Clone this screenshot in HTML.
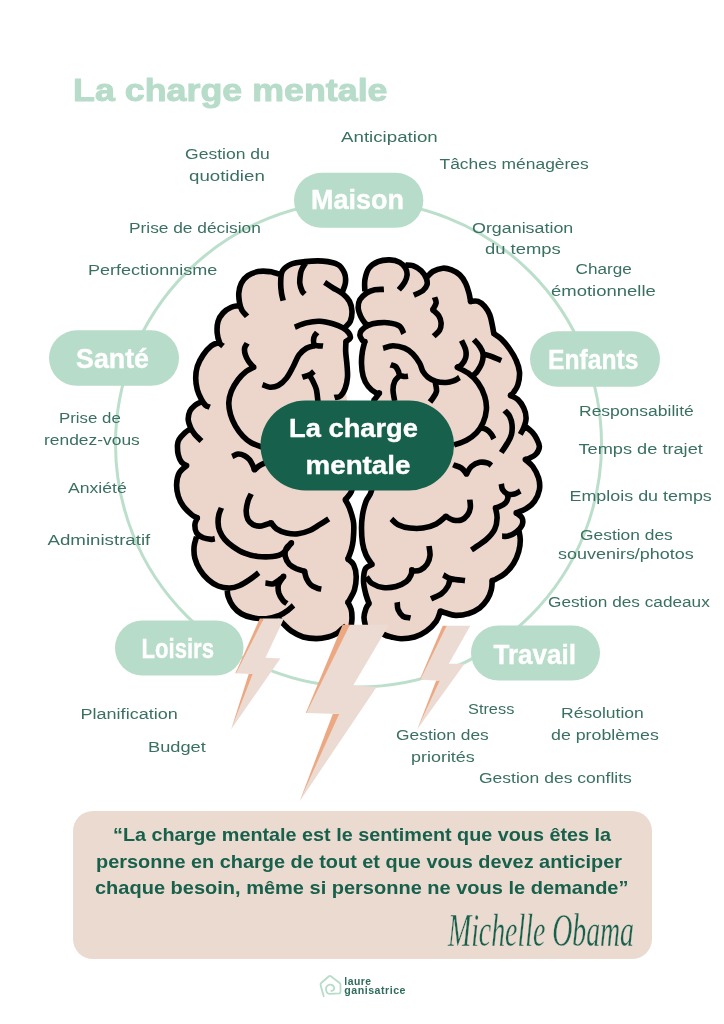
<!DOCTYPE html>
<html lang="fr">
<head>
<meta charset="utf-8">
<title>La charge mentale</title>
<style>
html,body{margin:0;padding:0;background:#ffffff;}
body{width:724px;height:1024px;overflow:hidden;}
svg{display:block;will-change:transform;}
text{font-family:"Liberation Sans",sans-serif;}
.lab{fill:#3a7062;font-weight:400;}
.pill{fill:#ffffff;font-weight:700;stroke:#ffffff;stroke-width:0.4px;}
.title{fill:#b7dcc9;font-weight:700;stroke:#b7dcc9;stroke-width:1px;stroke-linejoin:round;}
.quote{fill:#17604c;font-weight:700;}
.sig{font-family:"Liberation Serif",serif;font-style:italic;fill:#17604c;stroke:#ebdad0;stroke-width:0.4px;}
.logo{fill:#2f6b5b;font-weight:700;}
</style>
</head>
<body>
<svg width="724" height="1024" viewBox="0 0 724 1024">

<rect width="724" height="1024" fill="#ffffff"/>
<text class="title" x="73" y="101" font-size="32" textLength="314.5" lengthAdjust="spacingAndGlyphs">La charge mentale</text>
<circle cx="358.5" cy="444" r="243" fill="none" stroke="#bcdfcc" stroke-width="3"/>
<text class="lab" x="185" y="158.9" font-size="15.2" textLength="84.8" lengthAdjust="spacingAndGlyphs">Gestion du</text>
<text class="lab" x="189" y="181" font-size="15.2" textLength="75.8" lengthAdjust="spacingAndGlyphs">quotidien</text>
<text class="lab" x="341" y="141.8" font-size="15.2" textLength="96.8" lengthAdjust="spacingAndGlyphs">Anticipation</text>
<text class="lab" x="439.5" y="168.6" font-size="15.2" textLength="149.3" lengthAdjust="spacingAndGlyphs">Tâches ménagères</text>
<text class="lab" x="129" y="233.2" font-size="15.2" textLength="131.8" lengthAdjust="spacingAndGlyphs">Prise de décision</text>
<text class="lab" x="88" y="274.5" font-size="15.2" textLength="129.3" lengthAdjust="spacingAndGlyphs">Perfectionnisme</text>
<text class="lab" x="472" y="232.8" font-size="15.2" textLength="101.3" lengthAdjust="spacingAndGlyphs">Organisation</text>
<text class="lab" x="485" y="254" font-size="15.2" textLength="75.8" lengthAdjust="spacingAndGlyphs">du temps</text>
<text class="lab" x="575.5" y="274.4" font-size="15.2" textLength="56.3" lengthAdjust="spacingAndGlyphs">Charge</text>
<text class="lab" x="551" y="296" font-size="15.2" textLength="104.8" lengthAdjust="spacingAndGlyphs">émotionnelle</text>
<text class="lab" x="59" y="422.5" font-size="15.2" textLength="61.8" lengthAdjust="spacingAndGlyphs">Prise de</text>
<text class="lab" x="44" y="445" font-size="15.2" textLength="95.8" lengthAdjust="spacingAndGlyphs">rendez-vous</text>
<text class="lab" x="68" y="492.5" font-size="15.2" textLength="58.8" lengthAdjust="spacingAndGlyphs">Anxiété</text>
<text class="lab" x="47.5" y="545" font-size="15.2" textLength="102.8" lengthAdjust="spacingAndGlyphs">Administratif</text>
<text class="lab" x="579" y="416.2" font-size="15.2" textLength="114.8" lengthAdjust="spacingAndGlyphs">Responsabilité</text>
<text class="lab" x="578.5" y="454.3" font-size="15.2" textLength="124.3" lengthAdjust="spacingAndGlyphs">Temps de trajet</text>
<text class="lab" x="569.5" y="500.5" font-size="15.2" textLength="142.3" lengthAdjust="spacingAndGlyphs">Emplois du temps</text>
<text class="lab" x="580" y="539.5" font-size="15.2" textLength="92.8" lengthAdjust="spacingAndGlyphs">Gestion des</text>
<text class="lab" x="558" y="559" font-size="15.2" textLength="135.8" lengthAdjust="spacingAndGlyphs">souvenirs/photos</text>
<text class="lab" x="548" y="606.5" font-size="15.2" textLength="161.8" lengthAdjust="spacingAndGlyphs">Gestion des cadeaux</text>
<text class="lab" x="80.5" y="719" font-size="15.2" textLength="97.3" lengthAdjust="spacingAndGlyphs">Planification</text>
<text class="lab" x="148" y="751.5" font-size="15.2" textLength="57.8" lengthAdjust="spacingAndGlyphs">Budget</text>
<text class="lab" x="468" y="714" font-size="15.2" textLength="46.3" lengthAdjust="spacingAndGlyphs">Stress</text>
<text class="lab" x="561" y="718" font-size="15.2" textLength="82.8" lengthAdjust="spacingAndGlyphs">Résolution</text>
<text class="lab" x="551" y="740" font-size="15.2" textLength="107.8" lengthAdjust="spacingAndGlyphs">de problèmes</text>
<text class="lab" x="396" y="740" font-size="15.2" textLength="92.8" lengthAdjust="spacingAndGlyphs">Gestion des</text>
<text class="lab" x="411" y="761.5" font-size="15.2" textLength="63.8" lengthAdjust="spacingAndGlyphs">priorités</text>
<text class="lab" x="479" y="782.5" font-size="15.2" textLength="152.8" lengthAdjust="spacingAndGlyphs">Gestion des conflits</text>
<rect x="294" y="172.8" width="129.3" height="55" rx="27.5" fill="#b7dcc9"/>
<text class="pill" x="311" y="209.2" font-size="28" textLength="93" lengthAdjust="spacingAndGlyphs">Maison</text>
<rect x="49" y="330.3" width="130" height="55.5" rx="27.75" fill="#b7dcc9"/>
<text class="pill" x="76" y="367.5" font-size="28" textLength="73" lengthAdjust="spacingAndGlyphs">Santé</text>
<rect x="530" y="331.3" width="130" height="55.5" rx="27.75" fill="#b7dcc9"/>
<text class="pill" x="548" y="368.5" font-size="28" textLength="90.5" lengthAdjust="spacingAndGlyphs">Enfants</text>
<rect x="115" y="620.5" width="128.5" height="55" rx="27.5" fill="#b7dcc9"/>
<text class="pill" x="141.5" y="657.9" font-size="28" textLength="72.5" lengthAdjust="spacingAndGlyphs">Loisirs</text>
<rect x="471" y="625.5" width="129" height="55" rx="27.5" fill="#b7dcc9"/>
<text class="pill" x="493.5" y="663.5" font-size="28" textLength="82.5" lengthAdjust="spacingAndGlyphs">Travail</text>
<g><path d="M342.4,291.8C342.9,290.4 345.0,286.3 345.4,283.2C345.8,280.1 345.8,276.3 344.5,273.2C343.2,270.1 341.5,266.6 337.9,264.6C334.3,262.6 328.5,261.6 323.0,261.1C317.5,260.6 310.1,261.1 304.8,261.6C299.6,262.1 295.2,262.4 291.5,264.0C287.8,265.6 284.2,267.8 282.4,271.0L281.4,274.9C279.4,274.3 273.4,272.2 269.5,271.6C265.6,271.1 261.5,270.9 257.9,271.6C254.3,272.3 250.7,273.7 247.9,275.6C245.1,277.5 242.8,280.3 241.3,283.2C239.8,286.1 239.1,289.8 238.8,293.1C238.5,296.4 239.1,300.1 239.6,303.0L239.6,305.5C238.2,305.8 234.1,305.9 231.3,307.2C228.5,308.4 225.2,310.6 223.0,313.0C220.8,315.4 219.1,318.0 218.1,321.3C217.1,324.6 216.9,329.3 217.2,332.9C217.5,336.5 218.7,340.6 219.7,342.8L219.7,342.4C218.3,342.9 214.2,343.6 211.4,345.7C208.7,347.8 205.5,351.4 203.2,354.9C200.8,358.4 198.6,362.6 197.3,366.5C196.1,370.4 195.7,374.2 195.7,378.1C195.7,382.0 196.3,386.1 197.3,389.7C198.3,393.3 200.1,397.0 201.5,399.6L200.7,402.1C199.7,402.7 196.7,403.9 194.9,405.4C193.1,406.9 191.0,408.8 189.9,411.2C188.8,413.6 188.1,416.7 188.2,419.5C188.3,422.3 189.6,425.3 190.7,427.8L190.7,428.6C189.7,429.3 186.8,431.0 184.9,432.8C183.0,434.6 180.3,437.4 179.1,439.4C177.9,441.4 177.6,442.3 177.5,444.9C177.4,447.5 177.6,452.0 178.3,454.9C179.0,457.8 180.2,460.5 181.6,462.3C183.0,464.1 185.8,465.1 186.6,465.6L186.6,465.6C185.3,466.9 180.8,469.9 179.1,473.1C177.4,476.3 176.7,480.8 176.6,484.7C176.5,488.6 177.2,492.7 178.3,496.3C179.4,499.9 181.1,503.2 183.3,506.2C185.5,509.2 189.2,512.5 191.5,514.5C193.8,516.5 196.3,517.3 197.3,517.9L197.3,517.9C196.9,519.0 195.0,522.0 194.9,524.5C194.8,527.0 195.1,530.6 196.5,532.8L196.6,536.6C196.2,538.3 194.4,543.0 194.1,546.6C193.8,550.2 193.9,554.3 194.9,558.2C195.9,562.1 197.7,566.2 199.9,569.8C202.1,573.4 205.2,577.0 208.2,579.7C211.2,582.4 214.5,584.6 218.1,586.0C221.7,587.4 226.1,588.1 229.7,588.0L227.2,588.0C227.3,589.4 227.1,593.3 228.1,596.3C229.1,599.3 230.8,603.3 233.0,606.2C235.2,609.1 238.0,611.8 241.3,613.7C244.6,615.6 248.8,617.0 252.9,617.8C257.1,618.6 261.8,619.1 266.2,618.7C270.6,618.3 275.9,616.8 279.5,615.4L279.0,619.0C279.9,619.9 282.0,622.5 284.1,624.5C286.2,626.5 288.3,629.1 291.5,631.2C294.7,633.3 299.1,635.8 303.2,637.0C307.3,638.2 312.3,638.6 316.4,638.6C320.5,638.6 324.7,637.8 328.0,637.0C331.3,636.2 334.2,634.8 336.3,633.7C338.4,632.6 338.8,631.6 340.4,630.3C342.0,629.0 345.1,626.7 346.0,626.0L351.2,626.0C351.3,624.6 352.0,620.6 352.0,617.9C352.0,615.2 351.9,612.2 351.2,609.6C350.5,607.0 348.4,603.4 347.9,602.2L347.9,602.2C348.2,601.8 348.5,601.8 349.6,599.7C350.7,597.6 353.4,593.6 354.5,589.7C355.6,585.8 356.3,580.6 356.2,576.5C356.1,572.4 355.1,567.8 353.7,564.9C352.3,562.0 348.9,560.1 347.9,559.1L347.9,559.1C348.4,557.6 350.3,553.1 351.2,549.9C352.1,546.7 352.8,544.5 353.2,540.0C353.6,535.5 354.2,528.3 353.6,523.0C353.0,517.7 350.9,512.0 349.5,508.1C348.1,504.2 346.0,501.2 345.3,499.8L345.3,499.8C346.4,498.1 350.7,494.9 352.0,489.9C353.3,484.9 353.2,478.3 353.0,470.0C352.8,461.7 351.8,450.0 351.0,440.0C350.2,430.0 348.9,415.0 348.5,410.0L345.3,388.0C346.5,384.8 347.2,380.8 347.5,377.0C347.8,373.2 347.3,369.2 347.0,365.0C346.7,360.8 345.9,355.9 345.7,352.0C345.5,348.1 345.9,343.2 346.0,341.5L346.0,341.5C346.7,340.9 349.9,339.3 350.3,337.9C350.8,336.5 349.9,334.6 348.7,332.9C347.5,331.2 345.5,329.4 342.9,327.9L345.4,327.1C346.2,326.1 349.2,323.9 350.3,321.3C351.4,318.7 352.1,314.6 352.0,311.3C351.9,308.0 351.0,304.3 349.5,301.4C348.0,298.5 345.7,296.2 342.9,293.9Z" fill="#ecd5cb" stroke="none"/><path d="M342.4,291.8C342.9,290.4 345.0,286.3 345.4,283.2C345.8,280.1 345.8,276.3 344.5,273.2C343.2,270.1 341.5,266.6 337.9,264.6C334.3,262.6 328.5,261.6 323.0,261.1C317.5,260.6 310.1,261.1 304.8,261.6C299.6,262.1 295.2,262.4 291.5,264.0C287.8,265.6 284.2,267.8 282.4,271.0C280.6,274.2 280.8,279.5 280.7,283.2C280.6,286.9 281.1,290.2 281.5,293.1C281.9,296.0 282.9,299.4 283.2,300.6 M281.4,274.9C279.4,274.3 273.4,272.2 269.5,271.6C265.6,271.1 261.5,270.9 257.9,271.6C254.3,272.3 250.7,273.7 247.9,275.6C245.1,277.5 242.8,280.3 241.3,283.2C239.8,286.1 239.1,289.8 238.8,293.1C238.5,296.4 239.1,300.1 239.6,303.0C240.1,305.9 240.8,308.3 242.1,310.5C243.3,312.7 246.3,315.3 247.1,316.3 M239.6,305.5C238.2,305.8 234.1,305.9 231.3,307.2C228.5,308.4 225.2,310.6 223.0,313.0C220.8,315.4 219.1,318.0 218.1,321.3C217.1,324.6 216.9,329.3 217.2,332.9C217.5,336.5 218.7,340.6 219.7,342.8C220.7,345.0 222.4,345.6 223.0,346.1 M219.7,342.4C218.3,342.9 214.2,343.6 211.4,345.7C208.7,347.8 205.5,351.4 203.2,354.9C200.8,358.4 198.6,362.6 197.3,366.5C196.1,370.4 195.7,374.2 195.7,378.1C195.7,382.0 196.3,386.1 197.3,389.7C198.3,393.3 200.1,397.0 201.5,399.6C202.9,402.2 204.2,404.1 205.6,405.4C207.0,406.6 209.1,406.8 209.8,407.1 M200.7,402.1C199.7,402.7 196.7,403.9 194.9,405.4C193.1,406.9 191.0,408.8 189.9,411.2C188.8,413.6 188.1,416.7 188.2,419.5C188.3,422.3 189.6,425.3 190.7,427.8C191.8,430.3 193.4,432.5 194.9,434.4C196.4,436.3 198.7,438.3 199.8,439.4C200.9,440.5 201.2,440.8 201.5,441.1 M190.7,428.6C189.7,429.3 186.8,431.0 184.9,432.8C183.0,434.6 180.3,437.4 179.1,439.4C177.9,441.4 177.6,442.3 177.5,444.9C177.4,447.5 177.6,452.0 178.3,454.9C179.0,457.8 180.2,460.5 181.6,462.3C183.0,464.1 185.8,465.1 186.6,465.6 M186.6,465.6C185.3,466.9 180.8,469.9 179.1,473.1C177.4,476.3 176.7,480.8 176.6,484.7C176.5,488.6 177.2,492.7 178.3,496.3C179.4,499.9 181.1,503.2 183.3,506.2C185.5,509.2 189.2,512.5 191.5,514.5C193.8,516.5 196.3,517.3 197.3,517.9 M197.3,517.9C196.9,519.0 195.0,522.0 194.9,524.5C194.8,527.0 195.1,530.6 196.5,532.8C197.9,535.0 200.7,536.6 203.2,537.7C205.7,538.8 209.5,539.2 211.4,539.4C213.3,539.5 214.2,538.7 214.8,538.6 M196.6,536.6C196.2,538.3 194.4,543.0 194.1,546.6C193.8,550.2 193.9,554.3 194.9,558.2C195.9,562.1 197.7,566.2 199.9,569.8C202.1,573.4 205.2,577.0 208.2,579.7C211.2,582.4 214.5,584.6 218.1,586.0C221.7,587.4 226.1,588.1 229.7,588.0C233.3,587.9 236.4,586.9 239.7,585.5C243.0,584.1 246.4,581.8 249.6,579.7C252.8,577.6 257.2,573.9 258.7,572.8 M227.2,588.0C227.3,589.4 227.1,593.3 228.1,596.3C229.1,599.3 230.8,603.3 233.0,606.2C235.2,609.1 238.0,611.8 241.3,613.7C244.6,615.6 248.8,617.0 252.9,617.8C257.1,618.6 261.8,619.1 266.2,618.7C270.6,618.3 275.9,616.8 279.5,615.4C283.1,614.0 285.4,612.1 287.7,610.4C290.0,608.7 292.5,606.2 293.5,605.4 M279.0,619.0C279.9,619.9 282.0,622.5 284.1,624.5C286.2,626.5 288.3,629.1 291.5,631.2C294.7,633.3 299.1,635.8 303.2,637.0C307.3,638.2 312.3,638.6 316.4,638.6C320.5,638.6 324.7,637.8 328.0,637.0C331.3,636.2 334.2,634.8 336.3,633.7C338.4,632.6 338.8,631.6 340.4,630.3C342.0,629.0 345.1,626.7 346.0,626.0 M351.2,626.0C351.3,624.6 352.0,620.6 352.0,617.9C352.0,615.2 351.9,612.2 351.2,609.6C350.5,607.0 348.4,603.4 347.9,602.2 M347.9,602.2C348.2,601.8 348.5,601.8 349.6,599.7C350.7,597.6 353.4,593.6 354.5,589.7C355.6,585.8 356.3,580.6 356.2,576.5C356.1,572.4 355.1,567.8 353.7,564.9C352.3,562.0 348.9,560.1 347.9,559.1 M347.9,559.1C348.4,557.6 350.3,553.1 351.2,549.9C352.1,546.7 352.8,544.5 353.2,540.0C353.6,535.5 354.2,528.3 353.6,523.0C353.0,517.7 350.9,512.0 349.5,508.1C348.1,504.2 346.0,501.2 345.3,499.8 M345.3,499.8C346.4,498.1 350.7,494.9 352.0,489.9C353.3,484.9 353.2,478.3 353.0,470.0C352.8,461.7 351.8,450.0 351.0,440.0C350.2,430.0 348.9,415.0 348.5,410.0 M334.5,397.5C335.5,397.2 338.7,397.6 340.5,396.0C342.3,394.4 344.1,391.2 345.3,388.0C346.5,384.8 347.2,380.8 347.5,377.0C347.8,373.2 347.3,369.2 347.0,365.0C346.7,360.8 345.9,355.9 345.7,352.0C345.5,348.1 345.9,343.2 346.0,341.5 M346.0,341.5C346.7,340.9 349.9,339.3 350.3,337.9C350.8,336.5 349.9,334.6 348.7,332.9C347.5,331.2 345.5,329.4 342.9,327.9C340.3,326.4 336.8,324.9 332.9,323.8C329.0,322.7 324.1,321.5 319.7,321.3C315.3,321.1 310.5,321.9 306.4,322.9C302.2,323.9 296.7,326.4 294.8,327.1 M345.4,327.1C346.2,326.1 349.2,323.9 350.3,321.3C351.4,318.7 352.1,314.6 352.0,311.3C351.9,308.0 351.0,304.3 349.5,301.4C348.0,298.5 345.7,296.2 342.9,293.9C340.1,291.6 335.9,289.7 332.9,287.8C329.8,285.9 326.0,283.2 324.6,282.3 M306.0,262.5C305.4,263.4 303.4,266.2 302.5,268.0C301.6,269.8 301.1,270.7 300.6,273.2C300.2,275.7 299.5,280.2 299.8,283.2C300.1,286.2 301.5,289.6 302.3,291.4C303.1,293.2 304.4,293.5 304.8,293.9 M317.2,332.5C316.6,333.3 314.3,335.4 313.9,337.5C313.5,339.6 313.2,343.5 314.7,344.9C316.2,346.3 321.6,345.9 323.0,346.1 M262.5,384.7C263.7,385.1 267.3,387.1 269.9,387.2C272.5,387.3 275.4,387.0 278.2,385.5C281.0,384.0 284.0,381.3 286.5,378.1C289.0,374.9 291.1,370.4 293.2,366.5C295.3,362.6 296.8,357.9 299.0,354.9C301.2,351.8 303.8,349.7 306.4,348.2C309.0,346.7 313.3,346.1 314.7,345.7 M302.3,377.2C303.5,376.8 307.8,375.8 309.7,374.8C311.6,373.8 313.2,372.0 313.9,371.4 M309.7,375.6C310.2,376.6 311.9,379.0 313.0,381.4C314.1,383.8 315.6,386.3 316.4,389.7C317.2,393.1 317.7,399.9 318.0,402.0 M247.1,343.3C246.7,344.1 244.9,346.3 244.6,348.2C244.3,350.1 244.7,352.7 245.4,354.9C246.1,357.1 247.3,359.4 248.7,361.5C250.1,363.6 252.9,366.3 253.7,367.3 M253.7,367.3C252.4,368.0 248.8,369.3 246.2,371.4C243.6,373.5 240.5,376.4 238.0,379.7C235.5,383.0 232.8,387.4 231.3,391.3C229.8,395.2 228.9,399.0 228.8,402.9C228.7,406.8 229.4,410.6 230.5,414.5C231.6,418.4 233.4,422.5 235.5,426.1C237.6,429.7 240.3,433.3 242.9,436.1C245.5,438.9 248.0,440.9 251.2,442.7C254.4,444.5 260.2,446.3 262.0,447.0 M232.2,456.5C233.2,456.1 235.9,454.1 238.0,454.0C240.1,453.9 242.7,454.7 244.6,455.7C246.5,456.7 248.2,458.1 249.6,459.8C251.0,461.5 252.1,463.9 252.9,465.6C253.7,467.3 254.2,469.1 254.5,469.8 M254.5,469.8C255.3,469.1 257.6,466.8 259.5,465.6C261.4,464.4 264.9,463.0 266.0,462.5 M251.2,493.8C250.6,495.1 248.7,498.4 247.9,501.3C247.1,504.2 246.2,508.2 246.2,511.2C246.2,514.2 246.8,517.3 247.9,519.5C249.0,521.7 251.0,523.4 252.9,524.5C254.8,525.6 257.3,526.1 259.5,526.1C261.7,526.1 264.2,525.0 266.1,524.5C268.0,524.0 270.3,523.1 271.1,522.8 M271.1,522.8C272.0,523.8 273.9,527.1 276.5,528.8C279.1,530.5 282.9,532.2 286.5,533.0C290.1,533.8 294.2,534.2 298.1,533.8C302.0,533.4 306.1,532.0 309.7,530.5C313.3,529.0 316.4,526.6 319.6,524.7C322.8,522.8 327.2,519.9 328.7,518.9 M221.4,507.9C221.0,509.0 219.5,512.0 218.9,514.5C218.3,517.0 218.0,520.0 218.1,522.8C218.2,525.6 218.6,528.3 219.7,531.1C220.8,533.9 222.5,536.8 224.7,539.4C226.9,542.0 229.7,544.3 233.0,546.6C236.3,548.9 240.4,551.6 244.6,553.2C248.8,554.9 253.2,556.0 257.9,556.5C262.6,557.0 268.6,557.0 272.8,556.5C277.0,556.0 279.7,555.5 282.8,553.2C285.9,550.9 290.0,544.6 291.4,542.9 M291.4,542.9C290.5,543.8 287.1,546.2 286.1,548.5C285.1,550.8 284.8,553.9 285.3,556.5C285.9,559.1 287.5,562.4 289.4,564.4C291.3,566.4 294.0,567.6 296.5,568.8C299.0,569.9 303.2,570.9 304.5,571.3 M304.5,571.3C304.8,572.5 305.4,576.2 306.5,578.5C307.6,580.8 309.2,583.4 311.0,585.0C312.8,586.6 315.8,587.6 317.5,588.3C319.2,589.0 320.7,588.9 321.3,589.0 M265.4,583.0C266.6,583.1 270.4,584.4 272.8,583.9C275.2,583.4 277.7,581.0 279.5,579.7C281.3,578.5 282.9,577.0 283.6,576.4 M283.6,576.4C282.8,577.8 279.3,581.7 278.5,584.5C277.7,587.3 278.1,590.3 278.8,593.0C279.6,595.7 281.6,598.8 283.0,600.5C284.4,602.2 286.2,603.0 286.9,603.5" fill="none" stroke="#000" stroke-width="5.6" stroke-linecap="butt" stroke-linejoin="round"/><circle cx="186.6" cy="465.6" r="2.8" fill="#000"/><circle cx="197.3" cy="517.9" r="2.8" fill="#000"/><circle cx="253.7" cy="367.3" r="2.8" fill="#000"/><circle cx="254.5" cy="469.8" r="2.8" fill="#000"/><circle cx="271.1" cy="522.8" r="2.8" fill="#000"/><circle cx="283.6" cy="576.4" r="2.8" fill="#000"/><circle cx="291.4" cy="542.9" r="2.8" fill="#000"/><circle cx="304.5" cy="571.3" r="2.8" fill="#000"/><circle cx="345.3" cy="499.8" r="2.8" fill="#000"/><circle cx="346.0" cy="341.5" r="2.8" fill="#000"/><circle cx="347.9" cy="559.1" r="2.8" fill="#000"/><circle cx="347.9" cy="602.2" r="2.8" fill="#000"/><path d="M364.9,291.4C364.9,289.5 364.2,283.7 364.9,279.8C365.6,275.9 366.8,271.2 369.0,268.2C371.2,265.2 374.7,263.0 378.1,261.6C381.6,260.2 386.1,259.8 389.7,259.9C393.3,260.0 397.1,261.0 399.7,262.4C402.3,263.8 404.3,266.1 405.5,268.2L405.5,264.9C406.7,265.0 410.3,264.7 412.9,265.7C415.5,266.7 419.0,268.6 421.2,270.7C423.4,272.8 425.2,275.8 426.2,278.2L427.0,277.3C428.0,276.3 430.2,273.0 432.8,271.5C435.4,270.0 439.7,268.5 442.8,268.2C445.9,267.9 448.7,268.8 451.5,269.9C454.3,271.0 457.4,272.7 459.8,274.9C462.2,277.1 464.1,280.2 465.6,283.2C467.1,286.2 468.2,290.1 469.0,293.1C469.8,296.1 470.3,300.0 470.6,301.4L470.6,301.4C471.9,301.4 475.8,300.6 478.1,301.4C480.5,302.2 482.8,304.2 484.7,306.4C486.6,308.6 488.4,311.6 489.7,314.6C490.9,317.6 491.5,321.5 492.2,324.6C492.9,327.8 493.5,332.0 493.8,333.5L493.8,333.5C495.1,334.4 498.7,336.4 501.3,339.0C503.9,341.6 507.1,345.4 509.6,349.0C512.1,352.6 514.6,356.7 516.2,360.5C517.9,364.3 519.2,368.0 519.5,372.0C519.8,376.0 518.9,381.3 517.9,384.7C516.9,388.1 515.0,390.4 513.7,392.2C512.5,394.0 510.9,394.9 510.4,395.5L510.4,395.5C511.6,396.2 515.7,397.5 517.9,399.6C520.1,401.7 522.3,404.8 523.7,407.9C525.1,410.9 526.1,414.6 526.1,417.9C526.1,421.2 524.7,425.1 523.7,427.8L525.3,426.1C526.5,427.2 530.9,430.7 532.8,432.8C534.7,434.9 535.4,436.2 536.5,438.5C537.6,440.8 539.5,444.0 539.4,446.6C539.3,449.2 537.8,452.1 536.1,454.0C534.5,455.9 531.3,457.3 529.5,458.2C527.7,459.1 526.0,459.3 525.3,459.5L525.3,459.5C526.5,460.7 530.6,463.4 532.8,466.5C535.0,469.6 537.5,474.2 538.6,478.1C539.7,482.0 540.1,485.8 539.4,489.7C538.7,493.6 536.6,498.1 534.4,501.3C532.2,504.5 529.1,506.8 526.1,508.7C523.1,510.6 517.9,512.2 516.2,512.9L516.2,512.9C517.2,513.7 521.0,515.8 522.0,517.9C523.0,520.0 523.0,523.0 522.0,525.3L518.7,529.5C519.0,531.2 520.3,536.2 520.3,539.9C520.3,543.6 519.8,547.6 518.7,551.5C517.6,555.4 515.9,559.6 513.7,563.2C511.5,566.8 508.3,570.5 505.4,573.1C502.5,575.7 498.5,577.6 496.3,578.9C494.1,580.1 492.9,580.3 492.2,580.6L492.2,580.6C492.1,582.1 492.1,586.5 491.3,589.7C490.5,592.9 489.1,596.6 487.2,599.6C485.3,602.6 482.9,605.5 479.7,607.9C476.5,610.2 472.1,612.5 468.1,613.7C464.1,615.0 459.3,615.5 455.5,615.4C451.7,615.2 447.8,613.5 445.3,612.8C442.8,612.1 441.3,611.3 440.5,611.0L440.5,611.0C439.8,612.7 438.6,617.9 436.2,621.3C433.8,624.7 429.8,628.6 426.2,631.2C422.6,633.8 418.7,635.8 414.6,637.0C410.5,638.2 405.3,638.7 401.4,638.7C397.5,638.7 394.3,637.7 391.4,637.0C388.5,636.3 386.2,635.8 384.0,634.5C381.8,633.2 379.0,629.9 378.0,629.0L365.5,626.0C365.2,624.5 363.9,619.9 364.0,617.0C364.1,614.1 365.2,610.8 366.0,608.5C366.8,606.2 368.5,604.3 369.0,603.5L369.0,603.5C368.4,601.8 366.4,596.8 365.5,593.0C364.6,589.2 363.5,585.0 363.5,581.0C363.5,577.0 363.9,571.8 365.3,569.0C366.7,566.2 370.9,565.2 372.0,564.5L372.0,564.5C371.0,562.9 367.6,558.6 366.0,555.0C364.4,551.4 363.2,547.5 362.5,543.0C361.8,538.5 361.5,532.7 361.5,528.0C361.5,523.3 361.8,519.4 362.5,515.0C363.2,510.6 364.5,505.6 366.0,501.5C367.5,497.4 370.3,495.9 371.5,490.7C372.7,485.4 372.8,480.1 373.0,470.0C373.2,459.9 372.8,441.6 373.0,430.0C373.2,418.4 373.8,405.3 374.0,400.4L374.0,400.4C374.9,399.2 378.5,394.2 379.4,393.0L379.4,393.0C378.8,392.9 377.5,393.8 375.6,392.7C373.7,391.6 370.3,389.1 368.2,386.4C366.1,383.7 364.3,380.3 363.2,376.4C362.1,372.5 361.6,367.3 361.5,363.2C361.4,359.1 361.8,355.2 362.4,351.5C363.0,347.8 364.5,342.8 364.9,341.0L364.9,342.0C364.5,341.7 363.2,341.4 362.4,340.3C361.6,339.2 360.0,337.0 359.9,335.4C359.8,333.8 360.1,332.1 361.5,330.4C362.9,328.7 365.4,326.6 368.2,325.4L367.3,324.6C366.9,324.3 366.0,324.3 364.9,322.9C363.8,321.5 361.8,318.8 360.7,316.3C359.6,313.8 358.3,310.8 358.2,308.0C358.1,305.2 358.5,302.2 359.9,299.7C361.3,297.2 364.0,294.8 366.5,293.1Z" fill="#ecd5cb" stroke="none"/><path d="M364.9,291.4C364.9,289.5 364.2,283.7 364.9,279.8C365.6,275.9 366.8,271.2 369.0,268.2C371.2,265.2 374.7,263.0 378.1,261.6C381.6,260.2 386.1,259.8 389.7,259.9C393.3,260.0 397.1,261.0 399.7,262.4C402.3,263.8 404.3,266.1 405.5,268.2C406.7,270.3 407.2,272.5 407.1,274.9C407.0,277.2 406.0,279.8 404.6,282.3C403.2,284.8 399.8,288.6 398.8,289.8 M405.5,264.9C406.7,265.0 410.3,264.7 412.9,265.7C415.5,266.7 419.0,268.6 421.2,270.7C423.4,272.8 425.2,275.8 426.2,278.2C427.2,280.6 427.6,282.7 427.0,284.8C426.4,286.9 425.1,288.9 422.9,290.6C420.7,292.3 415.3,294.4 413.8,295.1 M427.0,277.3C428.0,276.3 430.2,273.0 432.8,271.5C435.4,270.0 439.7,268.5 442.8,268.2C445.9,267.9 448.7,268.8 451.5,269.9C454.3,271.0 457.4,272.7 459.8,274.9C462.2,277.1 464.1,280.2 465.6,283.2C467.1,286.2 468.2,290.1 469.0,293.1C469.8,296.1 470.3,300.0 470.6,301.4 M470.6,301.4C471.9,301.4 475.8,300.6 478.1,301.4C480.5,302.2 482.8,304.2 484.7,306.4C486.6,308.6 488.4,311.6 489.7,314.6C490.9,317.6 491.5,321.5 492.2,324.6C492.9,327.8 493.5,332.0 493.8,333.5 M493.8,333.5C495.1,334.4 498.7,336.4 501.3,339.0C503.9,341.6 507.1,345.4 509.6,349.0C512.1,352.6 514.6,356.7 516.2,360.5C517.9,364.3 519.2,368.0 519.5,372.0C519.8,376.0 518.9,381.3 517.9,384.7C516.9,388.1 515.0,390.4 513.7,392.2C512.5,394.0 510.9,394.9 510.4,395.5 M510.4,395.5C511.6,396.2 515.7,397.5 517.9,399.6C520.1,401.7 522.3,404.8 523.7,407.9C525.1,410.9 526.1,414.6 526.1,417.9C526.1,421.2 524.7,425.1 523.7,427.8C522.7,430.6 520.9,433.3 520.3,434.4 M525.3,426.1C526.5,427.2 530.9,430.7 532.8,432.8C534.7,434.9 535.4,436.2 536.5,438.5C537.6,440.8 539.5,444.0 539.4,446.6C539.3,449.2 537.8,452.1 536.1,454.0C534.5,455.9 531.3,457.3 529.5,458.2C527.7,459.1 526.0,459.3 525.3,459.5 M525.3,459.5C526.5,460.7 530.6,463.4 532.8,466.5C535.0,469.6 537.5,474.2 538.6,478.1C539.7,482.0 540.1,485.8 539.4,489.7C538.7,493.6 536.6,498.1 534.4,501.3C532.2,504.5 529.1,506.8 526.1,508.7C523.1,510.6 517.9,512.2 516.2,512.9 M516.2,512.9C517.2,513.7 521.0,515.8 522.0,517.9C523.0,520.0 523.0,523.0 522.0,525.3C521.0,527.6 518.6,530.1 516.2,531.9C513.9,533.7 510.2,535.4 507.9,536.1C505.5,536.8 503.1,536.1 502.1,536.1 M518.7,529.5C519.0,531.2 520.3,536.2 520.3,539.9C520.3,543.6 519.8,547.6 518.7,551.5C517.6,555.4 515.9,559.6 513.7,563.2C511.5,566.8 508.3,570.5 505.4,573.1C502.5,575.7 498.5,577.6 496.3,578.9C494.1,580.1 492.9,580.3 492.2,580.6 M492.2,580.6C492.1,582.1 492.1,586.5 491.3,589.7C490.5,592.9 489.1,596.6 487.2,599.6C485.3,602.6 482.9,605.5 479.7,607.9C476.5,610.2 472.1,612.5 468.1,613.7C464.1,615.0 459.3,615.5 455.5,615.4C451.7,615.2 447.8,613.5 445.3,612.8C442.8,612.1 441.3,611.3 440.5,611.0 M440.5,611.0C439.8,612.7 438.6,617.9 436.2,621.3C433.8,624.7 429.8,628.6 426.2,631.2C422.6,633.8 418.7,635.8 414.6,637.0C410.5,638.2 405.3,638.7 401.4,638.7C397.5,638.7 394.3,637.7 391.4,637.0C388.5,636.3 386.2,635.8 384.0,634.5C381.8,633.2 379.0,629.9 378.0,629.0 M365.5,626.0C365.2,624.5 363.9,619.9 364.0,617.0C364.1,614.1 365.2,610.8 366.0,608.5C366.8,606.2 368.5,604.3 369.0,603.5 M369.0,603.5C368.4,601.8 366.4,596.8 365.5,593.0C364.6,589.2 363.5,585.0 363.5,581.0C363.5,577.0 363.9,571.8 365.3,569.0C366.7,566.2 370.9,565.2 372.0,564.5 M372.0,564.5C371.0,562.9 367.6,558.6 366.0,555.0C364.4,551.4 363.2,547.5 362.5,543.0C361.8,538.5 361.5,532.7 361.5,528.0C361.5,523.3 361.8,519.4 362.5,515.0C363.2,510.6 364.5,505.6 366.0,501.5C367.5,497.4 370.3,495.9 371.5,490.7C372.7,485.4 372.8,480.1 373.0,470.0C373.2,459.9 372.8,441.6 373.0,430.0C373.2,418.4 373.8,405.3 374.0,400.4 M374.0,400.4L379.4,393.0 M379.4,393.0C378.8,392.9 377.5,393.8 375.6,392.7C373.7,391.6 370.3,389.1 368.2,386.4C366.1,383.7 364.3,380.3 363.2,376.4C362.1,372.5 361.6,367.3 361.5,363.2C361.4,359.1 361.8,355.2 362.4,351.5C363.0,347.8 364.5,342.8 364.9,341.0 M364.9,342.0C364.5,341.7 363.2,341.4 362.4,340.3C361.6,339.2 360.0,337.0 359.9,335.4C359.8,333.8 360.1,332.1 361.5,330.4C362.9,328.7 365.4,326.6 368.2,325.4C371.0,324.1 374.5,323.3 378.1,322.9C381.7,322.5 386.1,322.3 389.7,322.9C393.3,323.4 397.3,324.4 399.7,326.2C402.1,328.0 403.1,332.4 403.8,333.7 M367.3,324.6C366.9,324.3 366.0,324.3 364.9,322.9C363.8,321.5 361.8,318.8 360.7,316.3C359.6,313.8 358.3,310.8 358.2,308.0C358.1,305.2 358.5,302.2 359.9,299.7C361.3,297.2 364.0,294.8 366.5,293.1C369.0,291.5 371.9,290.4 374.8,289.8C377.7,289.2 382.4,289.5 383.9,289.4 M434.5,297.2C434.8,298.2 436.4,300.9 436.1,303.0C435.8,305.1 433.4,308.6 432.8,309.7 M432.8,309.7C433.8,310.7 437.2,313.3 438.6,315.5C440.0,317.7 441.0,320.4 441.1,322.9C441.2,325.4 440.7,328.2 439.5,330.4C438.3,332.6 434.7,335.2 433.7,336.2 M383.1,348.2C384.8,347.8 389.4,345.7 393.0,345.7C396.6,345.7 401.3,346.8 404.6,348.2C407.9,349.6 410.4,351.5 412.9,354.0C415.4,356.5 417.9,360.3 419.6,363.2C421.3,366.1 421.5,369.1 422.9,371.4C424.3,373.7 425.7,375.5 427.9,377.2C430.1,378.9 433.1,380.5 436.1,381.4C439.1,382.3 443.1,382.6 446.1,382.5C449.2,382.4 452.2,381.3 454.4,380.5C456.6,379.7 458.6,378.0 459.5,377.5 M435.3,382.5C435.5,384.0 436.9,388.7 436.5,391.3C436.1,393.9 434.1,396.2 433.0,398.0C431.9,399.8 430.5,401.3 430.0,402.0 M390.6,364.8C391.4,365.1 394.2,365.4 395.5,366.5C396.8,367.6 397.6,369.7 398.3,371.1C399.0,372.5 398.8,374.2 399.7,375.1C400.6,376.0 402.4,376.2 403.8,376.4C405.2,376.6 407.3,376.2 408.0,376.1 M399.7,375.6C398.9,376.6 395.8,379.0 394.7,381.4C393.6,383.8 393.0,386.4 393.0,389.7C393.0,393.0 394.4,399.1 394.7,401.0 M461.5,340.5C462.2,342.0 464.9,346.8 465.6,349.7C466.3,352.6 466.3,355.5 465.6,358.0C464.9,360.5 462.9,363.2 461.5,364.8C460.1,366.4 458.0,366.9 457.3,367.3 M457.3,367.3C459.1,368.3 464.6,370.5 468.1,373.1C471.6,375.7 475.3,379.1 478.1,383.0C480.9,386.9 483.3,391.9 484.7,396.3C486.1,400.7 486.7,405.2 486.4,409.6C486.1,414.0 484.7,418.9 483.0,422.8C481.3,426.7 479.1,429.9 476.4,432.8C473.6,435.7 470.2,438.2 466.5,440.2C462.8,442.2 456.1,444.2 454.0,445.0 M473.9,339.7C474.9,340.8 478.2,344.0 479.7,346.4C481.2,348.8 482.6,351.0 483.0,353.8C483.4,356.6 482.8,360.1 481.8,363.0C480.8,365.9 478.5,369.4 477.2,371.4C475.9,373.4 474.4,374.2 473.9,374.8 M483.0,353.8C484.4,354.2 488.2,355.2 491.3,356.3C494.4,357.4 499.6,359.8 501.3,360.5 M504.6,410.4C505.4,411.4 508.4,413.8 509.6,416.2C510.8,418.6 511.7,421.5 512.0,424.5C512.3,427.5 512.2,431.3 511.5,434.4C510.8,437.5 509.2,440.0 507.5,443.0C505.8,446.0 502.3,450.8 501.3,452.4 M479.7,427.8C480.8,428.1 484.4,428.4 486.4,429.5C488.4,430.6 490.3,432.8 491.5,434.4C492.7,435.9 493.4,438.1 493.8,438.8 M453.2,464.8C454.6,465.4 459.3,466.6 461.5,468.1C463.7,469.6 465.7,472.9 466.5,473.9 M466.5,473.9C467.3,472.7 469.2,468.4 471.4,466.5C473.6,464.6 476.9,462.9 479.7,462.3C482.5,461.8 486.1,462.6 488.0,463.2C489.9,463.8 490.8,465.2 491.3,465.6 M501.3,483.9C501.5,484.9 501.6,488.0 502.6,489.7C503.6,491.4 505.1,493.1 507.1,493.8C509.1,494.5 512.3,494.6 514.5,494.1C516.7,493.6 519.3,491.5 520.3,491.0 M507.1,494.3C507.2,494.9 508.2,496.6 507.9,498.0C507.6,499.4 506.8,501.5 505.4,502.9C504.0,504.3 501.2,505.8 499.6,506.6C498.0,507.4 496.2,507.7 495.5,507.9 M495.5,507.9C495.8,509.6 497.2,514.3 497.1,517.9C497.0,521.5 496.4,525.9 494.6,529.5C492.8,533.1 489.7,536.4 486.4,539.4C483.1,542.4 477.3,546.0 474.8,547.7C472.3,549.5 472.0,549.5 471.4,549.9 M391.4,518.9C392.5,519.9 395.1,523.2 398.1,524.7C401.2,526.2 405.6,527.5 409.7,528.0C413.8,528.5 418.5,528.7 422.9,528.0C427.3,527.3 432.4,525.9 436.2,523.9C440.0,521.9 444.3,517.6 445.9,516.3 M445.9,516.3C447.0,516.9 450.2,519.3 452.8,519.9C455.4,520.5 458.9,520.8 461.3,520.0C463.8,519.2 466.0,517.0 467.5,515.0C469.0,513.0 469.9,510.5 470.3,507.9C470.7,505.3 469.9,501.0 469.8,499.6 M429.0,546.0C429.2,547.6 430.3,552.5 430.0,555.5C429.7,558.5 428.6,561.9 427.0,564.3C425.4,566.7 422.7,568.9 420.5,570.0C418.3,571.1 415.4,571.0 414.0,571.0C412.6,571.0 412.2,569.9 411.8,569.7 M411.8,569.7C411.7,570.6 411.9,573.0 411.0,575.0C410.1,577.0 408.9,579.6 406.4,581.5C403.9,583.4 399.9,585.5 396.0,586.5C392.1,587.5 387.0,588.0 383.0,587.5C379.0,587.0 374.7,585.2 372.0,583.5C369.3,581.8 367.5,578.1 366.6,577.0 M443.3,574.9C444.6,575.5 447.4,577.8 451.0,578.8C454.6,579.8 462.7,580.3 465.0,580.6 M450.0,578.5C449.7,579.8 449.4,583.5 448.0,586.0C446.6,588.5 444.3,591.7 441.5,593.8C438.7,595.9 432.8,598.0 431.0,598.8 M397.2,602.2C397.4,603.5 397.1,607.4 398.1,609.7C399.1,612.1 400.9,614.9 403.0,616.3C405.1,617.7 409.2,617.7 410.5,618.0" fill="none" stroke="#000" stroke-width="5.6" stroke-linecap="butt" stroke-linejoin="round"/><circle cx="364.9" cy="341.5" r="2.8" fill="#000"/><circle cx="369.0" cy="603.5" r="2.8" fill="#000"/><circle cx="372.0" cy="564.5" r="2.8" fill="#000"/><circle cx="374.0" cy="400.4" r="2.8" fill="#000"/><circle cx="379.4" cy="393.0" r="2.8" fill="#000"/><circle cx="411.8" cy="569.7" r="2.8" fill="#000"/><circle cx="432.8" cy="309.7" r="2.8" fill="#000"/><circle cx="440.5" cy="611.0" r="2.8" fill="#000"/><circle cx="445.9" cy="516.3" r="2.8" fill="#000"/><circle cx="457.3" cy="367.3" r="2.8" fill="#000"/><circle cx="466.5" cy="473.9" r="2.8" fill="#000"/><circle cx="470.6" cy="301.4" r="2.8" fill="#000"/><circle cx="492.2" cy="580.6" r="2.8" fill="#000"/><circle cx="493.8" cy="333.5" r="2.8" fill="#000"/><circle cx="495.5" cy="507.9" r="2.8" fill="#000"/><circle cx="510.4" cy="395.5" r="2.8" fill="#000"/><circle cx="516.2" cy="512.9" r="2.8" fill="#000"/><circle cx="525.3" cy="459.5" r="2.8" fill="#000"/></g>
<polygon points="263.4,618.6 284,618.6 265.5,657.7 280.4,658.4 231.2,729.3 252.3,674.1 235.4,673.3" fill="#ecdbd2"/><polygon points="259.8,618.6 263.8,618.6 236.0,673.3 235.4,673.3" fill="#eca882"/><polygon points="248.7,674.1 252.7,674.1 231.2,729.3" fill="#eca882"/>
<polygon points="349.6,624.7 389,624.7 353.0,685.8 376.6,687.0 299.6,801.4 338.8,713.9 305.8,713.1" fill="#ecdbd2"/><polygon points="342.6,624.7 350.0,624.7 306.4,713.1 305.8,713.1" fill="#eca882"/><polygon points="332.8,713.9 339.2,713.9 299.6,801.4" fill="#eca882"/>
<polygon points="446.3,625.7 470.3,625.7 448.8,663.8 464.5,663.8 417.3,729.3 439.3,680.7 419.8,679.6" fill="#ecdbd2"/><polygon points="442.7,625.7 446.7,625.7 420.4,679.6 419.8,679.6" fill="#eca882"/><polygon points="436.1,680.7 439.7,680.7 417.3,729.3" fill="#eca882"/>
<rect x="260.5" y="400.5" width="193.5" height="90" rx="45" fill="#17604c"/>
<text class="pill" x="289" y="437" font-size="26.5" textLength="129" lengthAdjust="spacingAndGlyphs">La charge</text>
<text class="pill" x="305.5" y="473.5" font-size="26.5" textLength="105.0" lengthAdjust="spacingAndGlyphs">mentale</text>
<rect x="73" y="811" width="579" height="148" rx="20" fill="#ebdad0"/>
<text class="quote" x="113" y="841.2" font-size="18.4" textLength="498" lengthAdjust="spacingAndGlyphs">“La charge mentale est le sentiment que vous êtes la</text>
<text class="quote" x="96" y="868" font-size="18.4" textLength="526" lengthAdjust="spacingAndGlyphs">personne en charge de tout et que vous devez anticiper</text>
<text class="quote" x="95" y="894" font-size="18.4" textLength="533.5" lengthAdjust="spacingAndGlyphs">chaque besoin, même si personne ne vous le demande”</text>
<text class="sig" x="448" y="946" font-size="47" textLength="186" lengthAdjust="spacingAndGlyphs">Michelle Obama</text>
<path d="M323.7,996.3 L320.6,985.2 Q320.2,983.8 321.4,982.8 L329,976.3 Q329.9,975.6 330.9,976.3 L339.6,983 Q340.5,983.8 340.5,985 L340.5,992 Q340.5,993.3 339.2,993.4 L329.5,993.9 Q326.5,993.5 326,989.5 Q325.8,985.3 329.8,984.6 Q333.6,984.4 334.2,988 Q334.3,990.8 331.3,990.8" fill="none" stroke="#b7dcc9" stroke-width="1.8" stroke-linejoin="round" stroke-linecap="round"/>
<text class="logo" x="344.3" y="985" font-size="10.5" textLength="27.3" lengthAdjust="spacingAndGlyphs" letter-spacing="0.5">laure</text>
<text class="logo" x="344.3" y="994.2" font-size="10.5" textLength="61.7" lengthAdjust="spacingAndGlyphs" letter-spacing="0.5">ganisatrice</text>
</svg>
</body>
</html>
